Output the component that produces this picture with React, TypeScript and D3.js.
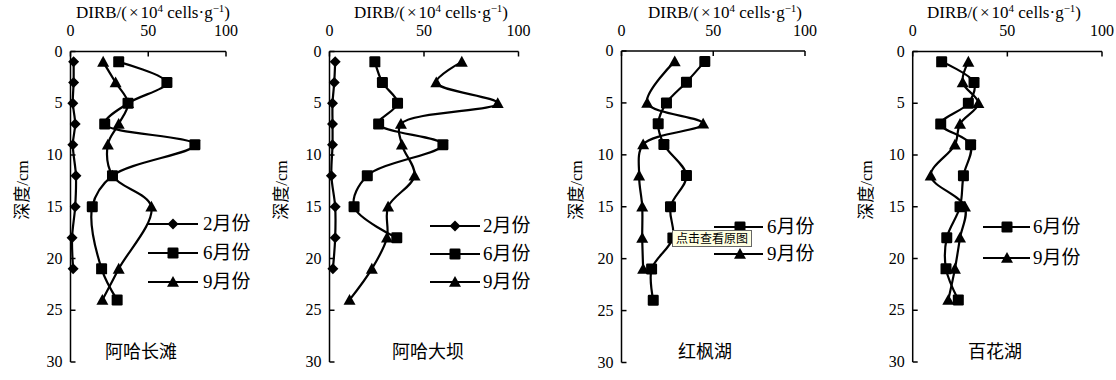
import React from "react";
import * as d3 from "d3";

// ---------- data ----------
const depths = [1, 3, 5, 7, 9, 12, 15, 18, 21, 24];
const xTicks = [0, 50, 100];
const yTicks = [0, 5, 10, 15, 20, 25, 30];
const seriesNames = ["2月份", "6月份", "9月份"];
const siteNames = ["阿哈长滩", "阿哈大坝", "红枫湖", "百花湖"];

const site1Feb = [2, 2, 1.5, 3, 1.5, 3.5, 3, 1, 1.7, null];
const site1Jun = [31, 62, 37, 22, 80, 27, 14, null, 20, 30];
const site1Sep = [21, 29, 37, 31, 24, 27, 52, null, 31, 20.5];

const site2Feb = [3, 2.5, 1.6, 1.6, 1.6, 1, 3, 3, 1.8, null];
const site2Jun = [24, 28, 36, 26, 60, 20, 13, 35.6, null, null];
const site2Sep = [70, 56.5, 89, 37.8, 38.3, 45, 31, 30.4, 22.4, 10.6];

const site3Jun = [45.4, 35.4, 24.5, 20, 23.1, 35.4, 26.7, 28, 16.4, 17.3];
const site3Sep = [29, null, 14, 44.5, 11.8, 9.6, 11.3, 11.3, 11.8, null];

const site4Jun = [15.3, 32.4, 29.4, 14.8, 30.6, 26.8, 25, 18, 17.6, 24.1];
const site4Sep = [29.4, 26.4, 34.7, 25, 22.3, 9.5, 27.6, 25, 22.3, 18.8];

// series index: 0 = 2月份 (diamond), 1 = 6月份 (square), 2 = 9月份 (triangle)
const siteSeries: { idx: number; values: (number | null)[] }[][] = [
  [{ idx: 0, values: site1Feb }, { idx: 1, values: site1Jun }, { idx: 2, values: site1Sep }],
  [{ idx: 0, values: site2Feb }, { idx: 1, values: site2Jun }, { idx: 2, values: site2Sep }],
  [{ idx: 1, values: site3Jun }, { idx: 2, values: site3Sep }],
  [{ idx: 1, values: site4Jun }, { idx: 2, values: site4Sep }],
];

// ---------- layout ----------
const layout = [
  { x0: 70.5, x1: 226, y0: 51.5, y1: 362, titleX: 153, ylabX: 22, siteX: 141, legX0: 148, legX1: 198, legM: 173, legT: 203, legRows: [224, 253, 282] },
  { x0: 329.5, x1: 518.5, y0: 51.5, y1: 362, titleX: 431, ylabX: 281, siteX: 428, legX0: 430, legX1: 480, legM: 455, legT: 483, legRows: [226, 254, 282] },
  { x0: 621.5, x1: 805, y0: 51, y1: 362.5, titleX: 725, ylabX: 576, siteX: 705, legX0: 714, legX1: 763, legM: 740, legT: 767, legRows: [227, 254] },
  { x0: 912.7, x1: 1102, y0: 51.5, y1: 362, titleX: 1004, ylabX: 866, siteX: 995, legX0: 983, legX1: 1030, legM: 1007, legT: 1033, legRows: [227, 258] },
];

const SERIF = "'Liberation Serif', 'Times New Roman', serif";
const MIXED = "'Liberation Serif', 'Noto Sans CJK SC', serif";
const CJK = "'Noto Sans CJK SC', sans-serif";

function Marker({ kind, x, y }: { kind: number; x: number; y: number }) {
  if (kind === 0) {
    const s = 5.5;
    return <path d={`M${x},${y - s}L${x + s},${y}L${x},${y + s}L${x - s},${y}Z`} fill="#000" />;
  }
  if (kind === 1) {
    const s = 5.5;
    return <rect x={x - s} y={y - s} width={2 * s} height={2 * s} rx={1.2} fill="#000" />;
  }
  const s = 6;
  return <path d={`M${x},${y - s}L${x + s},${y + s * 0.8}L${x - s},${y + s * 0.8}Z`} fill="#000" />;
}

function Panel({ p, series, name }: { p: (typeof layout)[number]; series: (typeof siteSeries)[number]; name: string }) {
  const x = d3.scaleLinear().domain([0, 100]).range([p.x0, p.x1]);
  const y = d3.scaleLinear().domain([0, 30]).range([p.y0, p.y1]);
  const line = d3
    .line<[number, number]>()
    .x((d) => x(d[1]))
    .y((d) => y(d[0]))
    .curve(d3.curveCatmullRom.alpha(0.5));
  const yMid = 190;
  return (
    <g>
      {/* title */}
      <text x={p.titleX} y={18} textAnchor="middle" fontFamily={SERIF} fontSize={17}>
        DIRB/(<tspan dx={2}>×</tspan>
        <tspan dx={2}>10</tspan>
        <tspan fontSize={11} dy={-6}>4</tspan>
        <tspan dy={6}> cells·g</tspan>
        <tspan fontSize={11} dy={-6}>−1</tspan>
        <tspan dy={6}>)</tspan>
      </text>
      {/* x axis */}
      <line x1={p.x0} x2={p.x1} y1={p.y0} y2={p.y0} stroke="#000" strokeWidth={1.5} />
      {xTicks.map((t) => (
        <g key={t}>
          <line x1={x(t)} x2={x(t)} y1={p.y0} y2={p.y0 + 5} stroke="#000" strokeWidth={1.5} />
          <text x={x(t)} y={36} textAnchor="middle" fontFamily={SERIF} fontSize={16}>
            {t}
          </text>
        </g>
      ))}
      {/* y axis */}
      <line x1={p.x0} x2={p.x0} y1={p.y0} y2={p.y1} stroke="#000" strokeWidth={1.5} />
      {yTicks.map((t) => (
        <g key={t}>
          <line x1={p.x0} x2={p.x0 + 5} y1={y(t)} y2={y(t)} stroke="#000" strokeWidth={1.5} />
          <text x={p.x0 - 8} y={y(t) + 5} textAnchor="end" fontFamily={SERIF} fontSize={16}>
            {t}
          </text>
        </g>
      ))}
      <text
        transform={`translate(${p.ylabX},${yMid}) rotate(-90)`}
        textAnchor="middle"
        dominantBaseline="central"
        fontFamily={MIXED}
        fontSize={17}
      >
        深度/cm
      </text>
      {/* series */}
      {series.map((s) => {
        const pts: [number, number][] = [];
        s.values.forEach((v, i) => {
          if (v !== null) pts.push([depths[i], v]);
        });
        return (
          <g key={s.idx}>
            <path d={line(pts) || ""} fill="none" stroke="#000" strokeWidth={2.2} />
            {pts.map((d, i) => (
              <Marker key={i} kind={s.idx} x={x(d[1])} y={y(d[0])} />
            ))}
          </g>
        );
      })}
      {/* legend */}
      {series.map((s, i) => (
        <g key={"l" + s.idx}>
          <line x1={p.legX0} x2={p.legX1} y1={p.legRows[i]} y2={p.legRows[i]} stroke="#000" strokeWidth={2.2} />
          <Marker kind={s.idx} x={p.legM} y={p.legRows[i]} />
          <text x={p.legT} y={p.legRows[i] + 6} fontFamily={MIXED} fontSize={19}>
            {seriesNames[s.idx]}
          </text>
        </g>
      ))}
      <text x={p.siteX} y={358} textAnchor="middle" fontFamily={CJK} fontSize={18}>
        {name}
      </text>
    </g>
  );
}

export default function App() {
  return (
    <svg
      width={1116}
      height={380}
      style={{ position: "absolute", left: 0, top: 0, background: "#fff" }}
    >
      <rect width={1116} height={380} fill="#fff" />
      {layout.map((p, i) => (
        <Panel key={i} p={p} series={siteSeries[i]} name={siteNames[i]} />
      ))}
      {/* browser tooltip overlay present in the reference */}
      <g>
        <rect x={672.5} y={230.5} width={79} height={16} fill="#ffffe1" stroke="#666" strokeWidth={1} />
        <text x={676} y={243} fontFamily={CJK} fontSize={12}>
          点击查看原图
        </text>
      </g>
    </svg>
  );
}
